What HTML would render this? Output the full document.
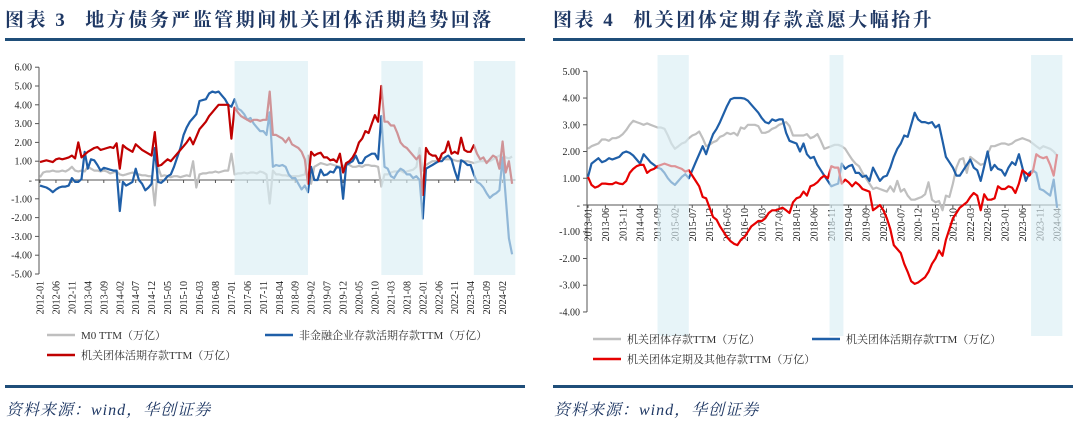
<!DOCTYPE html>
<html><head><meta charset="utf-8">
<style>
html,body{margin:0;padding:0;background:#fff;}
body{width:1080px;height:436px;overflow:hidden;position:relative;font-family:"Liberation Serif","Noto Serif CJK SC",serif;}
.title{position:absolute;top:5px;font-family:"Liberation Serif","Noto Serif CJK SC",serif;font-weight:bold;font-size:19px;color:#1f3864;white-space:nowrap;letter-spacing:2.5px;}
.title .num{margin-right:18px;}
.hline{position:absolute;height:3px;background:#1f4e79;}
.src{position:absolute;top:397px;font-style:italic;font-size:16px;letter-spacing:1px;color:#1f3864;font-family:"Liberation Serif","Noto Serif CJK SC",serif;}
svg{position:absolute;left:0;top:0;}
</style></head><body>
<div class="title" style="left:5px"><span class="num">图表 3</span>地方债务严监管期间机关团体活期趋势回落</div>
<div class="title" style="left:553px"><span class="num">图表 4</span>机关团体定期存款意愿大幅抬升</div>
<div class="hline" style="left:5px;width:520px;top:38px"></div>
<div class="hline" style="left:553px;width:520px;top:38px"></div>
<div class="hline" style="left:5px;width:520px;top:385px"></div>
<div class="hline" style="left:553px;width:520px;top:385px"></div>
<div class="src" style="left:6px">资料来源：wind，华创证券</div>
<div class="src" style="left:554px">资料来源：wind，华创证券</div>
<svg id="svg" width="1080" height="436" xmlns="http://www.w3.org/2000/svg"></svg>
<script>
// ---------- Chart 3 data (monthly from 2012-01) ----------
const leftStart = [2012, 1];
const leftYTicks = [6, 5, 4, 3, 2, 1, 0, -1, -2, -3, -4, -5];
const leftM0 = [0.15,0.4,0.45,0.45,0.5,0.45,0.45,0.5,0.45,0.55,0.7,0.5,
0.45,0.5,0.45,0.7,0.6,0.5,0.5,0.45,0.5,0.45,0.35,0.4,
0.45,0.3,0.25,0.3,0.35,0.4,0.3,0.3,0.25,0.25,0.2,0.2,
-1.35,0.7,0.2,0.25,0.2,0.15,0.2,0.2,0.15,0.2,0.25,0.2,
1.0,-0.4,0.3,0.35,0.35,0.4,0.4,0.45,0.4,0.45,0.5,0.5,
1.4,0.3,0.35,0.35,0.4,0.35,0.4,0.4,0.35,0.45,0.4,0.3,
-1.25,0.5,0.3,0.3,0.25,0.25,0.2,0.2,0.2,0.2,0.25,0.3,
1.3,-0.2,0.7,0.8,0.9,0.85,0.8,0.85,0.8,0.75,0.7,0.7,
0.9,0.8,0.7,0.7,0.75,0.7,0.8,0.8,0.75,0.75,0.7,-0.35,
0.3,0.3,0.4,0.45,0.45,0.5,0.4,0.45,0.5,0.55,0.7,1.7,
0.5,0.8,0.9,1.0,1.0,1.1,1.2,1.1,1.1,1.1,1.05,1.0,
1.05,1.0,1.0,0.95,0.9,0.95,1.0,1.0,1.0,1.0,1.1,1.2,
1.3,1.35,1.2,1.15,1.25];
const leftCorp = [-0.3,-0.35,-0.4,-0.5,-0.65,-0.5,-0.4,-0.35,-0.35,-0.3,0.1,-0.1,
-0.1,0.05,1.5,0.6,1.1,1.05,0.8,0.5,0.65,0.6,0.55,0.5,
0.5,-1.65,-0.1,-0.3,-0.2,-0.1,0.6,0.0,-0.2,-0.55,-0.4,-0.2,
1.7,-0.1,-0.15,0.0,0.2,0.3,0.7,1.2,1.7,2.4,2.8,3.1,
3.3,3.5,4.2,4.25,4.3,4.6,4.7,4.65,4.7,4.5,4.3,4.0,
3.9,4.3,3.8,3.7,3.5,3.2,3.3,3.0,2.8,2.6,2.6,2.4,
3.6,0.7,0.8,0.75,0.8,0.7,0.3,0.1,0.1,-0.2,-0.5,-0.3,
-0.65,0.7,0.0,0.0,0.55,0.25,0.3,0.45,0.4,0.7,0.65,-1.0,
0.8,0.9,1.0,1.3,0.9,0.9,1.2,1.3,1.4,1.4,1.1,3.4,
0.7,0.6,0.2,0.1,0.4,0.6,0.5,0.3,0.3,0.1,0.2,0.0,
-2.05,0.6,0.7,0.8,0.9,1.0,1.0,1.2,1.3,1.1,0.5,0.0,
1.05,0.95,0.8,0.8,0.3,-0.1,-0.2,-0.4,-0.7,-0.95,-0.8,-0.7,
-0.55,1.2,-0.9,-3.1,-3.95];
const leftGov = [0.95,1.0,1.05,1.0,0.95,1.1,1.15,1.1,1.15,1.2,1.3,1.15,
2.0,1.2,1.35,1.5,1.6,1.7,1.75,1.6,1.65,1.7,1.75,1.7,
1.95,0.6,1.85,1.7,1.6,1.5,1.9,1.75,1.6,1.5,1.4,1.3,
2.55,0.75,0.8,0.95,1.1,1.0,1.2,1.4,1.6,1.8,2.0,2.25,
1.9,2.3,2.7,2.9,3.1,3.4,3.6,3.8,4.0,4.0,4.0,4.0,
2.2,3.85,3.6,3.4,3.3,3.2,3.1,3.2,3.2,3.15,3.2,3.2,
4.7,2.4,2.4,2.3,2.2,2.0,2.25,1.9,1.8,1.7,1.5,1.1,
-0.2,1.5,1.3,1.4,1.45,1.2,1.2,1.05,1.1,0.95,1.4,0.4,
0.9,1.0,1.2,1.5,2.0,2.2,2.6,2.5,3.0,3.45,3.1,5.0,
3.1,3.1,2.9,2.9,2.5,2.0,1.8,1.7,1.5,1.3,1.1,1.3,
-0.8,1.7,1.4,1.3,1.3,1.0,1.4,1.5,2.05,1.4,1.5,1.4,
2.25,1.6,1.5,1.5,1.85,1.4,1.1,1.2,0.9,1.1,1.3,1.2,
0.6,2.05,0.4,1.0,-0.2];
const leftShades = [[61,84],[107,120],[136,149]]; // month index ranges

// ---------- Chart 4 data (monthly from 2013-01) ----------
const rightStart = [2013, 1];
const rightYTicks = [5, 4, 3, 2, 1, 0, -1, -2, -3, -4];
const rightTotal = [2.1,2.2,2.25,2.3,2.45,2.45,2.4,2.5,2.5,2.55,2.65,2.8,
3.0,3.15,3.1,3.05,3.0,3.05,3.0,2.95,2.9,2.9,2.85,2.6,
2.3,2.1,2.2,2.3,2.35,2.5,2.6,2.65,2.75,2.5,2.2,2.25,
2.35,2.4,2.55,2.6,2.7,2.65,2.7,2.6,2.9,2.85,3.0,3.0,
3.0,2.95,2.7,2.7,2.75,2.85,2.9,3.0,3.05,3.1,2.95,2.6,
2.6,2.6,2.6,2.65,2.5,2.55,2.65,2.4,2.1,2.15,2.2,2.25,
2.25,2.2,2.1,1.9,1.7,1.55,1.45,1.2,1.0,0.8,0.6,0.65,
0.6,0.55,0.5,0.7,0.5,0.9,0.5,0.6,0.35,0.2,0.2,0.25,
0.3,0.4,0.85,0.2,0.1,0.15,-0.2,0.35,0.3,0.8,1.4,1.7,
1.75,1.2,1.8,1.7,1.6,1.5,1.55,1.9,2.2,2.2,2.25,2.3,
2.3,2.25,2.3,2.4,2.45,2.5,2.45,2.4,2.3,2.2,2.1,2.2,2.15,2.1,2.0,1.85];
const rightDemand = [1.05,1.55,1.65,1.75,1.6,1.65,1.75,1.7,1.75,1.8,1.95,2.0,
1.95,1.85,1.7,1.55,1.9,1.75,1.6,1.5,1.4,1.35,1.2,1.0,
0.85,0.75,0.9,1.05,1.15,1.0,1.3,1.6,1.9,2.2,1.9,2.3,
2.65,2.85,3.1,3.4,3.7,3.95,4.0,4.0,4.0,3.98,3.9,3.75,
3.6,3.45,3.25,3.1,3.05,3.2,3.15,3.2,3.2,2.7,2.4,2.35,
2.3,2.0,2.3,1.9,1.75,1.8,1.5,1.3,1.1,0.9,0.7,0.75,
0.8,1.55,1.35,1.45,1.5,1.2,1.2,1.05,1.1,0.9,1.4,1.15,
0.9,1.05,1.1,1.4,1.8,2.1,2.3,2.6,2.55,3.0,3.45,3.2,
3.1,3.1,3.05,3.1,2.9,3.0,2.4,1.8,1.6,1.4,1.1,1.1,
1.3,1.5,1.7,1.4,1.3,0.9,1.45,2.0,1.3,1.5,1.35,1.3,
1.1,1.4,1.6,1.5,1.9,1.4,0.9,1.2,1.3,1.2,0.6,0.55,0.45,0.35,0.95,-0.1];
const rightTime = [1.05,0.75,0.65,0.7,0.8,0.8,0.78,0.78,0.85,0.8,0.78,0.9,
1.2,1.35,1.45,1.5,1.5,1.2,1.3,1.35,1.45,1.5,1.55,1.5,
1.45,1.45,1.4,1.35,1.25,1.3,1.1,0.9,0.7,0.3,0.25,-0.1,
-0.45,-0.55,-0.8,-1.0,-1.2,-1.35,-1.45,-1.5,-1.3,-1.2,-1.0,-0.8,
-0.7,-0.6,-0.6,-0.5,-0.3,-0.2,-0.2,-0.15,-0.1,-0.2,-0.3,0.1,
0.25,0.3,0.5,0.35,0.7,0.75,0.85,1.0,1.1,1.0,1.45,1.4,
1.4,0.8,0.95,0.85,0.7,0.85,0.75,0.6,0.55,0.5,-0.2,-0.1,
0.0,-0.2,-0.5,-0.9,-1.5,-1.65,-1.8,-2.2,-2.5,-2.85,-2.95,-2.9,
-2.8,-2.7,-2.5,-2.2,-2.0,-1.7,-1.9,-1.3,-0.9,-0.5,-0.3,-0.1,
0.0,0.1,0.3,0.45,0.35,-0.2,0.4,0.2,0.2,0.25,0.7,0.6,
0.6,0.7,0.65,0.45,0.8,1.3,1.2,1.1,1.25,1.9,1.8,1.75,1.8,1.5,1.1,1.9];
const rightShades = [[20,29],[69.5,73.5],[127.5,136.5]];

const NS = 'http://www.w3.org/2000/svg';
const svg = document.getElementById('svg');
function mk(tag, attrs, parent) {
  const e = document.createElementNS(NS, tag);
  for (const k in attrs) e.setAttribute(k, attrs[k]);
  (parent || svg).appendChild(e);
  return e;
}
function monthLabel(start, m) {
  const t = start[0] * 12 + (start[1] - 1) + m;
  const y = Math.floor(t / 12), mo = t % 12 + 1;
  return y + '-' + (mo < 10 ? '0' + mo : mo);
}
function fmt(v) { return v === 0 ? '-' : v.toFixed(2); }

function drawChart(cfg) {
  const g = mk('g', {});
  
  
  const xs = m => cfg.x0 + m * cfg.dx;
  const ys = v => cfg.yZero - v * cfg.dy;
  const ax = mk('line', {x1: cfg.x0 - 1, x2: cfg.x0 - 1, y1: ys(cfg.yTicks[0]), y2: ys(cfg.yTicks[cfg.yTicks.length - 1]), stroke: '#555', 'stroke-width': 1}, g);
  
  
  cfg.yTicks.forEach(v => {
    mk('line', {x1: cfg.x0 - 5, x2: cfg.x0 - 1, y1: ys(v), y2: ys(v), stroke: '#555', 'stroke-width': 1}, g);
    const t = mk('text', {x: cfg.x0 - 8, y: ys(v) + 3.5, 'text-anchor': 'end', 'font-size': 10, fill: '#222', 'font-family': '"Liberation Serif", serif'}, g);
    t.textContent = fmt(v);
    
    
  });
  const xa = mk('line', {x1: cfg.x0 - 1, x2: xs(cfg.nMonths), y1: ys(0), y2: ys(0), stroke: '#555', 'stroke-width': 1}, g);
  
  
  for (let m = 0; m < cfg.nMonths; m += 5) {
    const x = xs(m);
    mk('line', {x1: x, x2: x, y1: ys(0), y2: ys(0) + 3, stroke: '#555', 'stroke-width': 1}, g);
    const t = mk('text', {x: 0, y: 0, 'text-anchor': 'end', 'font-size': 10, fill: '#222', 'font-family': '"Liberation Serif", serif',
      transform: 'translate(' + (x + 3.5) + ',' + cfg.labelTop + ') rotate(-90)'}, g);
    t.textContent = monthLabel(cfg.start, m);
    
    
  }
  cfg.series.forEach(s => {
    const pts = s.values.map((v, i) => xs(i).toFixed(1) + ',' + ys(v).toFixed(1)).join(' ');
    const p = mk('polyline', {points: pts, fill: 'none', stroke: s.color, 'stroke-width': 2.2, 'stroke-linejoin': 'round'}, g);
    
    
  });
  cfg.shades.forEach(r => {
    const sh = mk('rect', {x: xs(r[0]), y: cfg.shadeTop, width: xs(r[1]) - xs(r[0]), height: cfg.shadeBottom - cfg.shadeTop, fill: '#d9eef4', 'fill-opacity': 0.62}, g);
    
    
  });
  cfg.legend.forEach(l => {
    mk('line', {x1: l.x, x2: l.x + 28, y1: l.y, y2: l.y, stroke: l.color, 'stroke-width': 2.5}, g);
    const t = mk('text', {x: l.x + 34, y: l.y + 4, 'font-size': 11, fill: '#333', 'font-family': '"Liberation Serif", "Noto Serif CJK SC", serif'}, g);
    t.textContent = l.text;
    
    
  });
}

drawChart({
  name: 'chart3-plot', start: leftStart, x0: 40, dx: 3.19, yZero: 180, dy: 18.8,
  yTicks: leftYTicks, nMonths: 149, labelTop: 281,
  shadeTop: 61, shadeBottom: 275, shades: leftShades,
  series: [
    {name: 'series-m0-ttm', values: leftM0, color: '#bfbfbf'},
    {name: 'series-nonfin-demand-ttm', values: leftCorp, color: '#1f5fa8'},
    {name: 'series-gov-demand-ttm', values: leftGov, color: '#c00000'}
  ],
  legend: [
    {x: 47, y: 335, color: '#bfbfbf', text: 'M0 TTM（万亿）'},
    {x: 265, y: 335, color: '#1f5fa8', text: '非金融企业存款活期存款TTM（万亿）'},
    {x: 47, y: 355, color: '#c00000', text: '机关团体活期存款TTM（万亿）'}
  ]
});
drawChart({
  name: 'chart4-plot', start: rightStart, x0: 588, dx: 3.475, yZero: 205, dy: 26.74,
  yTicks: rightYTicks, nMonths: 136, labelTop: 208,
  shadeTop: 55, shadeBottom: 336, shades: rightShades,
  series: [
    {name: 'series-gov-total-ttm', values: rightTotal, color: '#bfbfbf'},
    {name: 'series-gov-demand-ttm', values: rightDemand, color: '#1f5fa8'},
    {name: 'series-gov-time-ttm', values: rightTime, color: '#e60000'}
  ],
  legend: [
    {x: 593, y: 339, color: '#bfbfbf', text: '机关团体存款TTM（万亿）'},
    {x: 812, y: 339, color: '#1f5fa8', text: '机关团体活期存款TTM（万亿）'},
    {x: 593, y: 359, color: '#e60000', text: '机关团体定期及其他存款TTM（万亿）'}
  ]
});
</script>
</body></html>
